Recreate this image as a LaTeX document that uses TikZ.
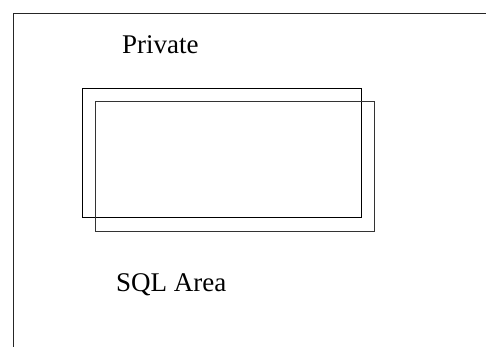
\documentclass[tikz,border=0pt]{standalone}
\usepackage{fontspec}
\setmainfont{Liberation Serif}
\begin{document}
\begin{tikzpicture}[x=1pt,y=-1pt,
  frameline/.style={line width=1pt,draw=black!85},
  areabox/.style={draw=black,line width=1pt,inner sep=0pt,anchor=north west},
  arealabel/.style={font=\fontsize{27}{30}\selectfont,inner sep=0pt,anchor=base west}]
  \useasboundingbox (0,0) rectangle (486,347);
  % outer region, open to the right and bottom
  \coordinate (fl) at (13.5,347);
  \coordinate (fc) at (13.5,13.5);
  \coordinate (fr) at (486,13.5);
  \draw[frameline] (fl) -- (fc) -- (fr);
  % two overlapping areas
  \node[areabox,minimum width=279pt,minimum height=128.5pt] (a1) at (81.5,88) {};
  \node[areabox,draw=black!80,minimum width=279pt,minimum height=129.5pt] (a2) at (95,101.5) {};
  % labels
  \node[arealabel] (lp) at (122,54) {Private};
  \node[arealabel] (ls) at (116,291.5) {SQL Area};
\end{tikzpicture}
\end{document}
